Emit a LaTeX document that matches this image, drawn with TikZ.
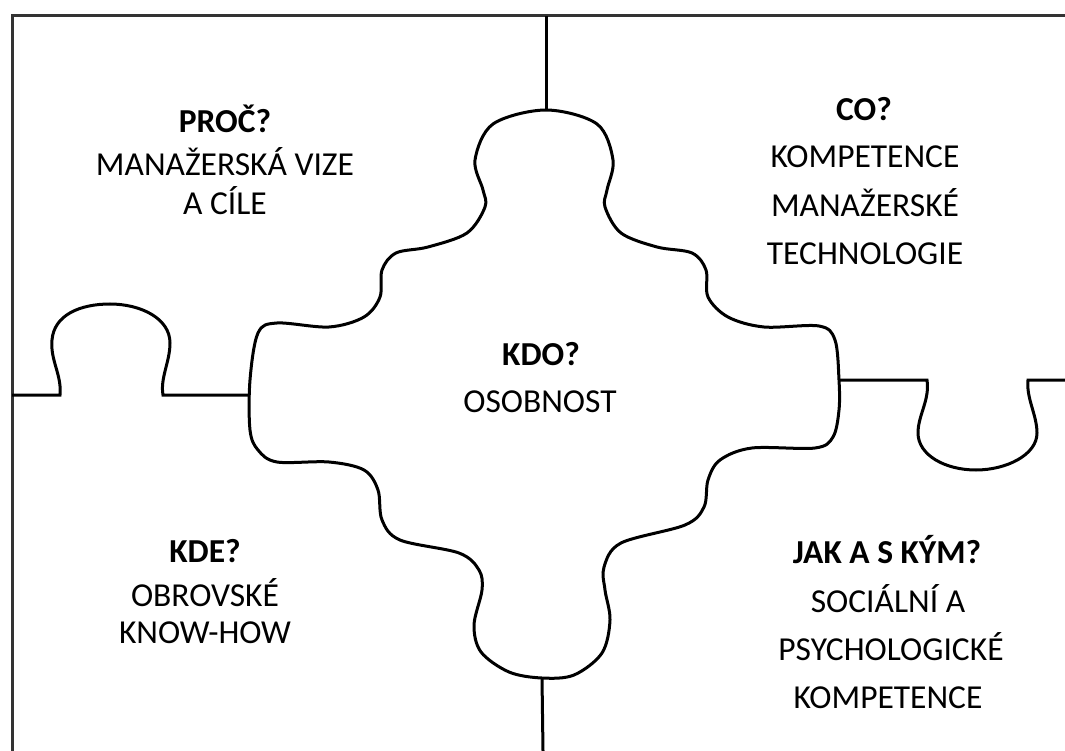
\documentclass[tikz,border=0pt]{standalone}
\usepackage{fontspec}
\setmainfont{Carlito}

\tikzset{
  frame/.style={line width=3pt, black!80},
  piece/.style={line width=3pt, black},
  head/.style={anchor=base, inner sep=0pt, font=\bfseries\fontsize{33.5}{40}\selectfont},
  txt/.style={anchor=base, inner sep=0pt, font=\fontsize{33.5}{40}\selectfont},
}

\begin{document}
\begin{tikzpicture}[x=1pt, y=-1pt]
    \useasboundingbox (0,0) rectangle (1065,751);

    % frame and ends of the joins
    \coordinate (corner)  at (12,16);
    \coordinate (topend)  at (1065,16);
    \coordinate (leftend) at (12,751);
    \coordinate (topA)    at (546,16);
    \coordinate (botA)    at (543,751);
    \coordinate (leftA)   at (12,395);
    \coordinate (rightA)  at (1065,380);

    % where the middle piece is met
    \coordinate (ktop)   at (546,110);
    \coordinate (kbot)   at (542,678);
    \coordinate (kleft)  at (250,395);
    \coordinate (kright) at (839,380);

    \draw[frame] (topend) -- (corner) -- (leftend);

    % middle piece
    \draw[piece] plot[smooth cycle, tension=0.55] coordinates {
      (546,110) (597,124) (613,160) (607,190) (605,207) (621,233) (657,247)
      (692,253) (706,270) (708,297) (728,317) (764,327) (819,326) (835,340)
      (839,380) (839,410) (833,437) (815,448) (752,448) (720,460) (708,480)
      (704,507) (685,525) (621,543) (604,567) (605,590) (610,620) (602,653)
      (574,675) (542,678) (509,672) (481,652) (474,625) (482,590) (479,570)
      (459,553) (400,540) (382,520) (378,490) (364,470) (329,462) (277,462)
      (258,450) (250,430) (250,380) (258,333) (277,323) (329,327) (364,317)
      (380,297) (382,270) (396,253) (428,247) (467,233) (485,207) (483,190)
      (475,160) (493,124)
    };

    % joins
    \draw[piece] (topA) -- (ktop);
    \draw[piece] (kbot) -- (botA);
    \draw[piece] (leftA) -- (60,395)
      .. controls (62,375) and (50,360) .. (52,340)
      .. controls (54,315) and (80,304) .. (110,304)
      .. controls (140,304) and (170,318) .. (170,343)
      .. controls (170,362) and (160,378) .. (163,395) -- (kleft);
    \draw[piece] (kright) -- (927,380)
      .. controls (930,400) and (918,415) .. (918,433)
      .. controls (918,455) and (945,470) .. (976,470)
      .. controls (1006,470) and (1037,455) .. (1037,433)
      .. controls (1037,415) and (1026,398) .. (1028,380) -- (rightA);

    % texts
    \node[head] (why)   at (225,133) {PROČ?};
    \node[txt]  (why1)  at (225,176) {MANAŽERSKÁ VIZE};
    \node[txt]  (why2)  at (225,215) {A CÍLE};

    \node[head] (what)  at (864,121) {CO?};
    \node[txt]  (what1) at (865,168) {KOMPETENCE};
    \node[txt]  (what2) at (865,217) {MANAŽERSKÉ};
    \node[txt]  (what3) at (865,265) {TECHNOLOGIE};

    \node[head] (who)   at (541,365) {KDO?};
    \node[txt]  (who1)  at (540,412) {OSOBNOST};

    \node[head] (where)  at (205,562) {KDE?};
    \node[txt]  (where1) at (205,606) {OBROVSKÉ};
    \node[txt]  (where2) at (205,643) {KNOW-HOW};

    \node[head] (how)   at (887,563) {JAK A S KÝM?};
    \node[txt]  (how1)  at (888,612) {SOCIÁLNÍ A};
    \node[txt]  (how2)  at (891,660) {PSYCHOLOGICKÉ};
    \node[txt]  (how3)  at (888,708) {KOMPETENCE};
\end{tikzpicture}
\end{document}
